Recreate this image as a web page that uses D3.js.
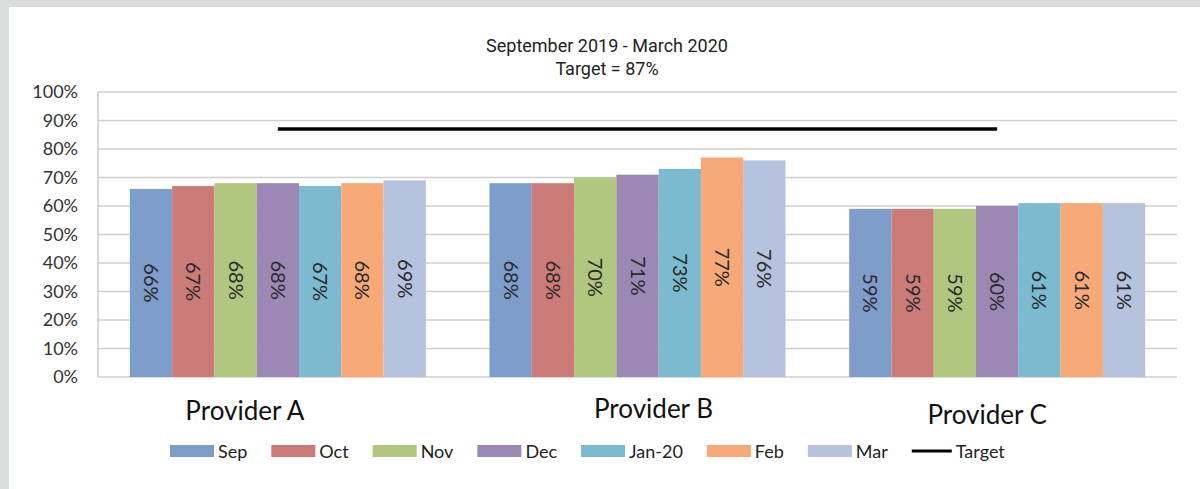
<!DOCTYPE html>
<html>
<head>
<meta charset="utf-8">
<script src="https://cdn.jsdelivr.net/npm/d3@7"></script>
<style>
  html, body { margin: 0; padding: 0; background: #dcdddf; }
  svg { display: block; }
</style>
</head>
<body>
<svg id="chart" width="1200" height="489"></svg>
<script>
// données
const providers = ['Provider A', 'Provider B', 'Provider C'];
const months = ['Sep', 'Oct', 'Nov', 'Dec', 'Jan-20', 'Feb', 'Mar'];
const valuesA = [66, 67, 68, 68, 67, 68, 69];
const valuesB = [68, 68, 70, 71, 73, 77, 76];
const valuesC = [59, 59, 59, 60, 61, 61, 61];
const target = 87;
const yTicks = [0, 10, 20, 30, 40, 50, 60, 70, 80, 90, 100];
const titleLines = ['September 2019 - March 2020', 'Target = 87%'];

const colors = ['#7e9dca', '#cb7c79', '#b1c67f', '#9b88b4', '#7bbacf', '#f7a977', '#b5c3de'];

const svg = d3.select('#chart');
const W = 1200, H = 489;
const font = 'Lato, "Open Sans", sans-serif';

// panneau blanc
svg.append('rect').attr('x', 9).attr('y', 7).attr('width', W - 9).attr('height', H - 7).attr('fill', '#fff');

const plot = { left: 98, right: 1177, top: 92, bottom: 377 };

const x = d3.scaleBand().domain(providers).range([plot.left, plot.right])
  .paddingInner(0.177).paddingOuter(0.0885);
const xm = d3.scaleBand().domain(months).range([0, x.bandwidth()]);
const y = d3.scaleLinear().domain([0, 100]).range([plot.bottom, plot.top]);

// titre
svg.selectAll('text.title').data(titleLines).enter().append('text')
  .attr('class', 'title')
  .attr('x', 607).attr('y', (d, i) => 52 + i * 23)
  .attr('text-anchor', 'middle')
  .style('font-family', 'Roboto, sans-serif').style('font-size', '18px').attr('fill', '#222')
  .text(d => d);

// grille
svg.append('g').selectAll('line').data(yTicks).enter().append('line')
  .attr('x1', plot.left).attr('x2', plot.right)
  .attr('y1', d => y(d)).attr('y2', d => y(d))
  .attr('stroke', '#cfcfcf').attr('stroke-width', 1.6);
svg.append('line').attr('x1', plot.left).attr('x2', plot.left)
  .attr('y1', plot.top).attr('y2', plot.bottom)
  .attr('stroke', '#cfcfcf').attr('stroke-width', 1.6);

// axe y
const yAxis = svg.append('g').attr('transform', `translate(${plot.left - 20},0)`)
  .call(d3.axisLeft(y).tickValues(yTicks).tickFormat(d => d + '%').tickSize(0).tickPadding(0));
yAxis.select('.domain').remove();
yAxis.selectAll('text').style('font-family', font).style('font-size', '18px').attr('fill', '#333');

// barres
const series = [valuesA, valuesB, valuesC];
const rows = [];
providers.forEach((p, i) => {
  months.forEach((m, j) => rows.push({ provider: p, month: m, value: series[i][j], k: j }));
});

const bars = svg.append('g').selectAll('g').data(rows).enter().append('g')
  .attr('transform', d => `translate(${x(d.provider) + xm(d.month)},0)`);
bars.append('rect')
  .attr('x', 0).attr('width', xm.bandwidth())
  .attr('y', d => y(d.value)).attr('height', d => y(0) - y(d.value))
  .attr('fill', d => colors[d.k]);
bars.append('text')
  .attr('transform', d => `translate(${xm.bandwidth() / 2},${(y(d.value) + y(0)) / 2}) rotate(90)`)
  .attr('text-anchor', 'middle').attr('dy', '0.35em')
  .style('font-family', font).style('font-size', '20px').attr('fill', '#2a2a2a')
  .text(d => d.value + '%');

// ligne cible
svg.append('line')
  .attr('x1', x(providers[0]) + x.bandwidth() / 2)
  .attr('x2', x(providers[2]) + x.bandwidth() / 2)
  .attr('y1', y(target)).attr('y2', y(target))
  .attr('stroke', '#000').attr('stroke-width', 3.5);

// étiquettes des catégories (décalage comme dans l'original)
const nudge = { 'Provider A': [-33, 0], 'Provider B': [16, -2], 'Provider C': [-10, 4] };
svg.append('g').selectAll('text').data(providers).enter().append('text')
  .attr('x', d => x(d) + x.bandwidth() / 2 + nudge[d][0])
  .attr('y', d => 420 + nudge[d][1])
  .attr('text-anchor', 'middle')
  .style('font-family', font).style('font-size', '26px').attr('fill', '#111')
  .text(d => d);

// légende
const legend = svg.append('g').attr('transform', 'translate(170,0)');
const items = months.map((m, i) => ({ label: m, color: colors[i], line: false }))
  .concat([{ label: 'Target', color: '#000', line: true }]);
let lx = 0;
items.forEach(it => {
  const g = legend.append('g').attr('transform', `translate(${lx},0)`);
  if (it.line) {
    g.append('line').attr('x1', 0).attr('x2', 40).attr('y1', 451).attr('y2', 451)
      .attr('stroke', '#000').attr('stroke-width', 3);
  } else {
    g.append('rect').attr('x', 0).attr('y', 445).attr('width', 44).attr('height', 12).attr('fill', it.color);
  }
  const t = g.append('text').attr('x', it.line ? 44 : 48).attr('y', 458)
    .style('font-family', font).style('font-size', '18px').attr('fill', '#222')
    .text(it.label);
  lx += (it.line ? 44 : 48) + t.node().getComputedTextLength() + 24;
});
</script>
</body>
</html>
